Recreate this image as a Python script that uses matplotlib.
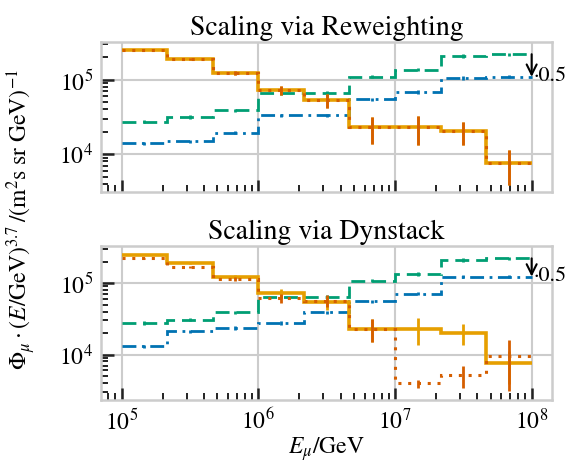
import numpy as np
import matplotlib
matplotlib.use('Agg')
import matplotlib.pyplot as plt
from matplotlib.ticker import LogLocator, NullFormatter

plt.rcParams['font.family'] = ['STIXGeneral', 'DejaVu Serif']
plt.rcParams['mathtext.fontset'] = 'stix'

# ---- data ----
edges = [1e5, 2.154e5, 4.642e5, 1e6, 2.154e6, 4.642e6, 1e7, 2.154e7, 4.642e7, 1e8]

# Panel 1: Scaling via Reweighting
rw_orange = [2.5e5, 1.9e5, 1.24e5, 7.2e4, 5.3e4, 2.28e4, 2.28e4, 2.03e4, 7.5e3]
rw_orange_err = [3e3, 5e3, 8e3, 1.0e4, 1.1e4, 9e3, 9.5e3, 7e3, 3.7e3]
rw_dotted = [2.5e5, 1.9e5, 1.24e5, 7.2e4, 5.3e4, 2.28e4, 2.28e4, 2.03e4, 7.5e3]
rw_dotted_err = [3e3, 5e3, 8e3, 1.0e4, 1.1e4, 9e3, 9.5e3, 7e3, 3.7e3]
rw_green = [2.71e4, 3.16e4, 3.85e4, 6.6e4, 6.6e4, 1.09e5, 1.36e5, 2.07e5, 2.19e5]
rw_blue = [1.39e4, 1.49e4, 1.93e4, 3.33e4, 3.33e4, 5.46e4, 6.84e4, 1.05e5, 1.09e5]

# Panel 2: Scaling via Dynstack
ds_orange = [2.49e5, 1.9e5, 1.24e5, 7.25e4, 5.37e4, 2.31e4, 2.31e4, 2.0e4, 7.5e3]
ds_orange_err = [3e3, 5e3, 8e3, 1.0e4, 1.1e4, 8e3, 9.5e3, 6.5e3, 3.7e3]
ds_dotted = [2.23e5, 1.71e5, 1.14e5, 6.2e4, 5.7e4, 2.31e4, 3.94e3, 5.1e3, 9.5e3]
ds_dotted_err = [3e3, 5e3, 7e3, 9e3, 1.1e4, 8e3, 5e2, 1.7e3, 6.4e3]
ds_green = [2.77e4, 3.08e4, 3.9e4, 6.5e4, 6.5e4, 1.09e5, 1.35e5, 2.12e5, 2.23e5]
ds_blue = [1.31e4, 2.12e4, 2.36e4, 2.77e4, 3.9e4, 5.55e4, 7.1e4, 1.24e5, 1.24e5]

rel_err_small = 0.05
scale_label = '·0.5'

C_OR = '#E69F00'
C_RO = '#D55E00'
C_GR = '#009E73'
C_BL = '#0072B2'

edges_a = np.array(edges)
centers = np.sqrt(edges_a[:-1] * edges_a[1:])

fig = plt.figure(figsize=(5.71, 4.66), dpi=100)
ax1 = fig.add_axes([0.177, 0.588, 0.790, 0.322])
ax2 = fig.add_axes([0.177, 0.1416, 0.790, 0.330])


def draw(ax, orange, orange_err, dotted, dotted_err, green, blue):
    g = np.array(green)
    b = np.array(blue)
    ax.stairs(g, edges_a, baseline=None, color=C_GR, lw=2.0, ls=(0, (5, 2.5)), zorder=3)
    ax.errorbar(centers, g, yerr=g * rel_err_small, fmt='none', ecolor=C_GR, elinewidth=2.0, zorder=3)
    ax.stairs(b, edges_a, baseline=None, color=C_BL, lw=2.0, ls=(0, (5, 2, 1, 2)), zorder=3)
    ax.errorbar(centers, b, yerr=b * rel_err_small, fmt='none', ecolor=C_BL, elinewidth=2.0, zorder=3)
    ax.stairs(orange, edges_a, baseline=None, color=C_OR, lw=2.6, ls='-', zorder=4)
    ax.errorbar(centers, orange, yerr=orange_err, fmt='none', ecolor=C_OR, elinewidth=2.0, zorder=4)
    ax.stairs(dotted, edges_a, baseline=None, color=C_RO, lw=2.2, ls=(0, (1, 2.2)), zorder=5)
    ax.errorbar(centers, dotted, yerr=dotted_err, fmt='none', ecolor=C_RO, elinewidth=2.0, zorder=5)
    ax.annotate('', xy=(edges_a[-1], b[-1] * 1.0), xytext=(edges_a[-1], g[-1] * 1.0),
                arrowprops=dict(arrowstyle='->', color='black', lw=1.5, shrinkA=0, shrinkB=0,
                                mutation_scale=18), zorder=6)
    ax.text(edges_a[-1] * 1.04, b[-1] * 1.03, scale_label, fontsize=16, va='center', ha='left',
            zorder=6)

    ax.set_xscale('log')
    ax.set_yscale('log')
    ax.set_xlim(10 ** 4.85, 10 ** 8.15)
    ax.grid(True, which='major', color='#cccccc', lw=1.5, zorder=0)
    ax.set_axisbelow(True)
    for s in ax.spines.values():
        s.set_color('#cccccc')
        s.set_linewidth(1.8)
    ax.xaxis.set_major_locator(LogLocator(base=10, numticks=10))
    ax.xaxis.set_minor_locator(LogLocator(base=10, subs=np.arange(2, 10), numticks=20))
    ax.yaxis.set_major_locator(LogLocator(base=10, numticks=10))
    ax.yaxis.set_minor_locator(LogLocator(base=10, subs=np.arange(2, 10), numticks=20))
    ax.xaxis.set_minor_formatter(NullFormatter())
    ax.yaxis.set_minor_formatter(NullFormatter())
    ax.tick_params(which='major', direction='in', length=9, width=1.8, color='#222222',
                   labelsize=17, pad=6)
    ax.tick_params(which='minor', direction='in', length=5, width=1.4, color='#222222')


draw(ax1, rw_orange, rw_orange_err, rw_dotted, rw_dotted_err, rw_green, rw_blue)
draw(ax2, ds_orange, ds_orange_err, ds_dotted, ds_dotted_err, ds_green, ds_blue)

ax1.set_ylim(3.1e3, 3.2e5)
ax2.set_ylim(2.3e3, 3.3e5)
ax1.tick_params(labelbottom=False)

ax1.set_title('Scaling via Reweighting', fontsize=20, pad=5)
ax2.set_title('Scaling via Dynstack', fontsize=20, pad=5)
ax2.set_xlabel(r'$E_\mu/\mathrm{GeV}$', fontsize=17, labelpad=1)
fig.text(0.038, 0.53, r'$\mathit{\Phi}_\mu \cdot (E/\mathrm{GeV})^{3.7}\,/(\mathrm{m}^2\mathrm{s\ sr\ GeV})^{-1}$',
         rotation=90, fontsize=17, ha='center', va='center')

fig.savefig('out.png', dpi=100)
